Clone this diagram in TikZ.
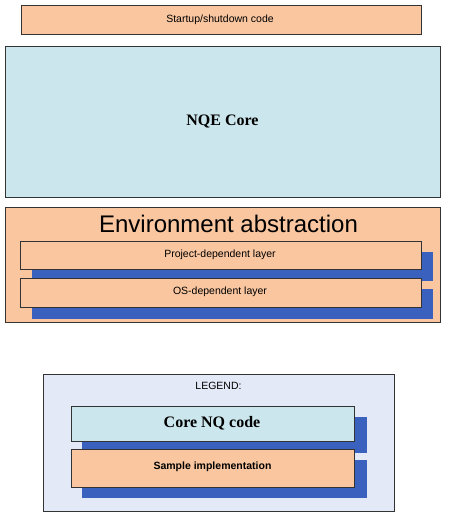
\documentclass[tikz,border=0pt]{standalone}
\usepackage{fontspec}
\setmainfont{Liberation Serif}
\setsansfont{Liberation Sans}
\definecolor{orangefill}{HTML}{F9C6A0}
\definecolor{corefill}{HTML}{CBE6EC}
\definecolor{shadowblue}{HTML}{3A61BD}
\definecolor{legendfill}{HTML}{E3E9F6}
\begin{document}
\begin{tikzpicture}[x=1pt,y=-1pt,
  boxo/.style={draw=black!80, line width=0.8pt, fill=orangefill},
  boxc/.style={draw=black!80, line width=0.8pt, fill=corefill},
  shad/.style={fill=shadowblue, draw=none},
  small/.style={font=\sffamily\fontsize{10.5}{12}\selectfont}]
\useasboundingbox (0,0) rectangle (451,522);
% startup
\draw[boxo] (21,5) rectangle (421,34);
\node[small] (startup) at (220,19.5) {Startup/shutdown code};
% NQE core
\draw[boxc] (5,46) rectangle (440,197);
\node[font=\bfseries\fontsize{16}{18}\selectfont] (core) at (222.5,121) {NQE Core};
% environment
\draw[boxo] (5,207) rectangle (440,322);
\node[font=\sffamily\fontsize{24}{27}\selectfont] (env) at (228.5,224) {Environment abstraction};
\fill[shad] (32,252) rectangle (433,281);
\draw[boxo] (20,241) rectangle (421,269);
\node[small] (proj) at (220,254.5) {Project-dependent layer};
\fill[shad] (32,289) rectangle (433,319);
\draw[boxo] (20,278) rectangle (421,307);
\node[small] (os) at (220,292) {OS-dependent layer};
% legend
\draw[draw=black!80, line width=0.8pt, fill=legendfill] (43,374) rectangle (394,511);
\node[small] (leg) at (218.5,386) {LEGEND:};
\fill[shad] (82,417) rectangle (367,453);
\draw[boxc] (71,406) rectangle (354,441);
\node[font=\bfseries\fontsize{16}{18}\selectfont] (corenq) at (212,423.5) {Core NQ code};
\fill[shad] (82,460) rectangle (367,498);
\draw[boxo] (71,449) rectangle (354,487);
\node[font=\sffamily\bfseries\fontsize{10.5}{12}\selectfont] (sample) at (212.5,467) {Sample implementation};
\end{tikzpicture}
\end{document}
